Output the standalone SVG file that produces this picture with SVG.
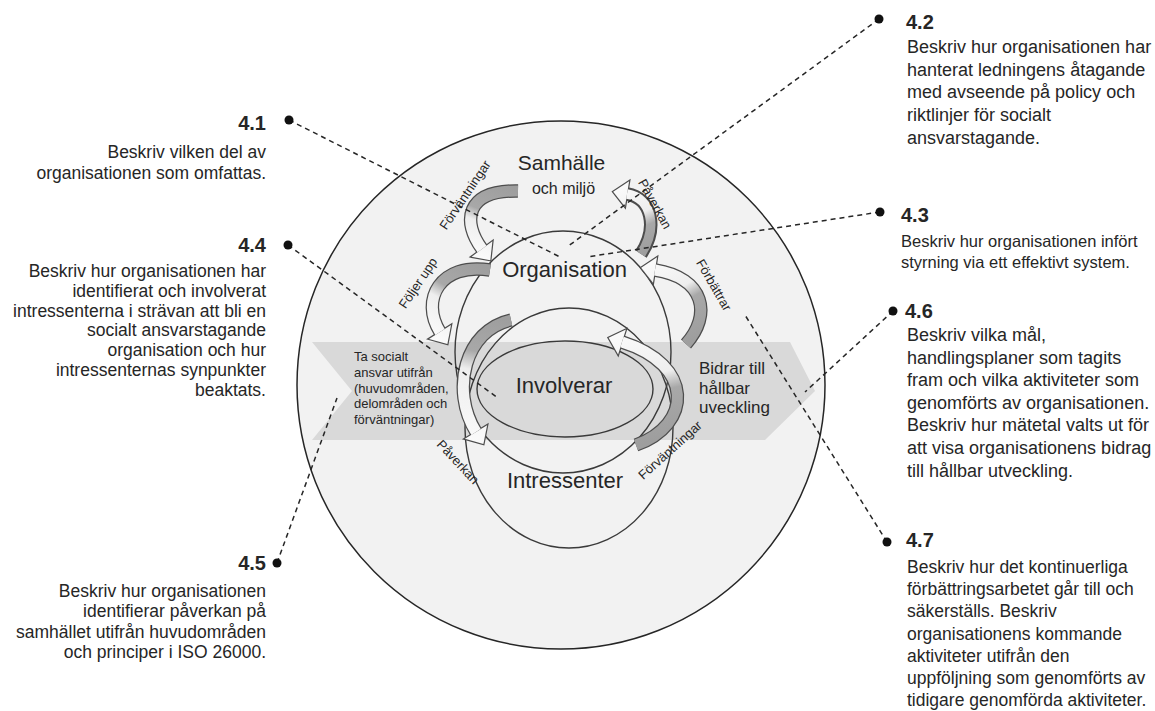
<svg xmlns="http://www.w3.org/2000/svg" width="1155" height="711" viewBox="0 0 1155 711">
<defs>
<style>
.t{font-family:"Liberation Sans",Arial,sans-serif;fill:#262626}
.h{font-family:"Liberation Sans",Arial,sans-serif;font-weight:bold;font-size:20px;fill:#262626}
.l{font-size:17.5px}
.r{font-size:18px}
.c{font-size:22px}
.rot{font-size:13px;text-anchor:middle}
.ring{fill:none;stroke:#3a3a3a;stroke-width:1.4}
.ao{fill:none;stroke:#4d4d4d;stroke-width:13.5}
.ho{stroke:#4d4d4d;stroke-width:2.4;stroke-linejoin:miter}
.dash{fill:none;stroke:#262626;stroke-width:1.5;stroke-dasharray:5 4}
.dot{fill:#111}
</style>
<linearGradient id="ga" gradientUnits="userSpaceOnUse" x1="518" y1="191" x2="490" y2="260"><stop offset="0" stop-color="#9e9e9e"/><stop offset="0.42" stop-color="#a8a8a8"/><stop offset="0.58" stop-color="#eeeeee"/><stop offset="1" stop-color="#fafafa"/></linearGradient>
<linearGradient id="gb" gradientUnits="userSpaceOnUse" x1="490" y1="270" x2="447" y2="344"><stop offset="0" stop-color="#9e9e9e"/><stop offset="0.42" stop-color="#a8a8a8"/><stop offset="0.58" stop-color="#eeeeee"/><stop offset="1" stop-color="#fafafa"/></linearGradient>
<linearGradient id="gc" gradientUnits="userSpaceOnUse" x1="511" y1="320" x2="483" y2="444"><stop offset="0" stop-color="#9e9e9e"/><stop offset="0.3" stop-color="#a8a8a8"/><stop offset="0.45" stop-color="#eeeeee"/><stop offset="1" stop-color="#fafafa"/></linearGradient>
<linearGradient id="gd" gradientUnits="userSpaceOnUse" x1="641" y1="254" x2="613" y2="192"><stop offset="0" stop-color="#9e9e9e"/><stop offset="0.35" stop-color="#a8a8a8"/><stop offset="0.55" stop-color="#eeeeee"/><stop offset="1" stop-color="#fafafa"/></linearGradient>
<linearGradient id="ge" gradientUnits="userSpaceOnUse" x1="686" y1="344" x2="641" y2="268"><stop offset="0" stop-color="#9e9e9e"/><stop offset="0.42" stop-color="#a8a8a8"/><stop offset="0.58" stop-color="#eeeeee"/><stop offset="1" stop-color="#fafafa"/></linearGradient>
<linearGradient id="gf" gradientUnits="userSpaceOnUse" x1="636" y1="445" x2="609" y2="338"><stop offset="0" stop-color="#9e9e9e"/><stop offset="0.42" stop-color="#a8a8a8"/><stop offset="0.58" stop-color="#eeeeee"/><stop offset="1" stop-color="#fafafa"/></linearGradient>
</defs>
<rect width="1155" height="711" fill="#ffffff"/>

<g id="samhalle">
<circle cx="561" cy="385" r="264" fill="#f2f2f2" stroke="#262626" stroke-width="1.5"/>
<text class="t" x="561.5" y="170" font-size="21" text-anchor="middle">Samhälle</text>
<text class="t" x="563.5" y="194" font-size="16" text-anchor="middle">och miljö</text>
</g>

<g id="band">
<polygon points="312,342 790,342 815,391 765,440 312,440 352,391" fill="#d9d9d9"/>
<text class="t" font-size="13"><tspan x="354" y="361">Ta socialt</tspan><tspan x="354" y="377">ansvar  utifrån</tspan><tspan x="354" y="393">(huvudområden,</tspan><tspan x="354" y="408">delområden och</tspan><tspan x="354" y="424">förväntningar)</tspan></text>
<text class="t" font-size="17"><tspan x="699" y="374">Bidrar till</tspan><tspan x="699" y="394">hållbar</tspan><tspan x="699" y="413">uveckling</tspan></text>
</g>

<g id="organisation">
<ellipse class="ring" cx="563" cy="352" rx="108" ry="121"/>
<text class="t c" x="564.5" y="277" text-anchor="middle">Organisation</text>
</g>
<g id="intressenter">
<ellipse class="ring" cx="569" cy="428" rx="104" ry="120"/>
<text class="t c" x="565" y="488" text-anchor="middle">Intressenter</text>
</g>
<g id="involverar">
<ellipse class="ring" cx="565" cy="389" rx="88" ry="48"/>
<text class="t c" x="564" y="393" text-anchor="middle">Involverar</text>
</g>

<g id="arrows">
<g id="arrow-a">
<path class="ao" d="M518,191 C465,190 462,222 482,249"/>
<polygon class="ho" fill="url(#ga)" points="471.6,256.7 490.3,260.2 492.4,241.3"/>
<path d="M518,191 C465,190 462,222 482,249" fill="none" stroke="url(#ga)" stroke-width="11"/>
<polygon fill="url(#ga)" points="471.6,256.7 490.3,260.2 492.4,241.3"/>
</g>
<g id="arrow-b">
<path class="ao" d="M490,270 C440,262 420,300 440,332"/>
<polygon class="ho" fill="url(#gb)" points="429,338.9 447.4,343.9 451,325.1"/>
<path d="M490,270 C440,262 420,300 440,332" fill="none" stroke="url(#gb)" stroke-width="11"/>
<polygon fill="url(#gb)" points="429,338.9 447.4,343.9 451,325.1"/>
</g>
<g id="arrow-c">
<path class="ao" d="M511,320 C465,330 450,390 476,432"/>
<polygon class="ho" fill="url(#gc)" points="464.9,438.8 483.4,443.9 487.1,425.2"/>
<path d="M511,320 C465,330 450,390 476,432" fill="none" stroke="url(#gc)" stroke-width="11"/>
<polygon fill="url(#gc)" points="464.9,438.8 483.4,443.9 487.1,425.2"/>
</g>
<g id="arrow-d">
<path class="ao" stroke-width="12" d="M641,254 C658,228 652,198 627,194"/>
<polygon class="ho" fill="url(#gd)" points="629.1,181.2 613.2,191.8 625,206.8"/>
<path d="M641,254 C658,228 652,198 627,194" fill="none" stroke="url(#gd)" stroke-width="9.5"/>
<polygon fill="url(#gd)" points="629.1,181.2 613.2,191.8 625,206.8"/>
</g>
<g id="arrow-e">
<path class="ao" d="M686,344 C712,315 705,278 655,270"/>
<polygon class="ho" fill="url(#ge)" points="657,257.2 641.2,267.8 653,282.8"/>
<path d="M686,344 C712,315 705,278 655,270" fill="none" stroke="url(#ge)" stroke-width="11"/>
<polygon fill="url(#ge)" points="657,257.2 641.2,267.8 653,282.8"/>
</g>
<g id="arrow-f">
<path class="ao" d="M636,445 C692,425 695,365 622,342"/>
<polygon class="ho" fill="url(#gf)" points="625.9,329.6 608.6,337.8 618.1,354.4"/>
<path d="M636,445 C692,425 695,365 622,342" fill="none" stroke="url(#gf)" stroke-width="11"/>
<polygon fill="url(#gf)" points="625.9,329.6 608.6,337.8 618.1,354.4"/>
</g>
</g>

<g id="arrow-labels">
<text class="t rot" x="465" y="199.5" transform="rotate(-56 465 195)">Förväntningar</text>
<text class="t rot" x="655" y="208.5" transform="rotate(61 655 204)">Påverkan</text>
<text class="t rot" x="418" y="287.5" transform="rotate(-56 418 283)">Följer upp</text>
<text class="t rot" x="714" y="289.5" transform="rotate(60 714 285)">Förbättrar</text>
<text class="t rot" x="458" y="466.5" transform="rotate(47 458 462)">Påverkan</text>
<text class="t rot" x="670" y="454.5" transform="rotate(-42 670 450)">Förväntningar</text>
</g>

<g id="connectors">
<line class="dash" x1="289" y1="120" x2="560" y2="257"/>
<line class="dash" x1="879" y1="19" x2="567" y2="247"/>
<line class="dash" x1="880" y1="212" x2="587" y2="257"/>
<line class="dash" x1="288" y1="245" x2="498" y2="398"/>
<line class="dash" x1="277" y1="563" x2="337" y2="398"/>
<line class="dash" x1="893" y1="311" x2="805" y2="392"/>
<line class="dash" x1="887" y1="542" x2="745" y2="315"/>
<circle class="dot" cx="289" cy="120" r="4.5"/>
<circle class="dot" cx="879" cy="19" r="4.5"/>
<circle class="dot" cx="880" cy="212" r="4.5"/>
<circle class="dot" cx="288" cy="245" r="4.5"/>
<circle class="dot" cx="277" cy="563" r="4.5"/>
<circle class="dot" cx="893" cy="311" r="4.5"/>
<circle class="dot" cx="887" cy="542" r="4.5"/>
</g>

<g id="note-4-1" text-anchor="end">
<text class="h" x="266" y="130">4.1</text>
<text class="t l"><tspan x="266" y="158">Beskriv vilken del av</tspan><tspan x="266" y="179">organisationen som omfattas.</tspan></text>
</g>
<g id="note-4-4" text-anchor="end">
<text class="h" x="266" y="252">4.4</text>
<text class="t l"><tspan x="266" y="277">Beskriv hur organisationen har</tspan><tspan x="266" y="297">identifierat och involverat</tspan><tspan x="266" y="317">intressenterna i strävan att bli en</tspan><tspan x="266" y="336">socialt ansvarstagande</tspan><tspan x="266" y="356">organisation och hur</tspan><tspan x="266" y="376">intressenternas synpunkter</tspan><tspan x="266" y="396">beaktats.</tspan></text>
</g>
<g id="note-4-5" text-anchor="end">
<text class="h" x="266" y="570">4.5</text>
<text class="t l"><tspan x="266" y="597">Beskriv hur organisationen</tspan><tspan x="266" y="617">identifierar påverkan på</tspan><tspan x="266" y="638">samhället utifrån huvudområden</tspan><tspan x="266" y="658">och principer i ISO 26000.</tspan></text>
</g>
<g id="note-4-2">
<text class="h" x="906" y="29">4.2</text>
<text class="t r"><tspan x="907" y="53">Beskriv hur organisationen har</tspan><tspan x="907" y="75.5">hanterat ledningens åtagande</tspan><tspan x="907" y="98">med avseende på policy och</tspan><tspan x="907" y="121">riktlinjer för socialt</tspan><tspan x="907" y="143.5">ansvarstagande.</tspan></text>
</g>
<g id="note-4-3">
<text class="h" x="901" y="222">4.3</text>
<text class="t" font-size="16.5"><tspan x="901" y="247">Beskriv hur organisationen infört</tspan><tspan x="901" y="268">styrning via ett effektivt system.</tspan></text>
</g>
<g id="note-4-6">
<text class="h" x="905" y="318">4.6</text>
<text class="t r"><tspan x="907" y="341">Beskriv vilka mål,</tspan><tspan x="907" y="363.6">handlingsplaner som tagits</tspan><tspan x="907" y="386.2">fram och vilka aktiviteter som</tspan><tspan x="907" y="408.8">genomförts av organisationen.</tspan><tspan x="907" y="431.4">Beskriv hur mätetal valts ut för</tspan><tspan x="907" y="454">att visa organisationens bidrag</tspan><tspan x="907" y="476.6">till hållbar utveckling.</tspan></text>
</g>
<g id="note-4-7">
<text class="h" x="906" y="547">4.7</text>
<text class="t" font-size="17.5"><tspan x="907" y="573">Beskriv hur det kontinuerliga</tspan><tspan x="907" y="595.2">förbättringsarbetet går till och</tspan><tspan x="907" y="617.4">säkerställs. Beskriv</tspan><tspan x="907" y="639.6">organisationens kommande</tspan><tspan x="907" y="661.8">aktiviteter utifrån den</tspan><tspan x="907" y="684">uppföljning som genomförts av</tspan><tspan x="907" y="706">tidigare genomförda aktiviteter.</tspan></text>
</g>
</svg>
